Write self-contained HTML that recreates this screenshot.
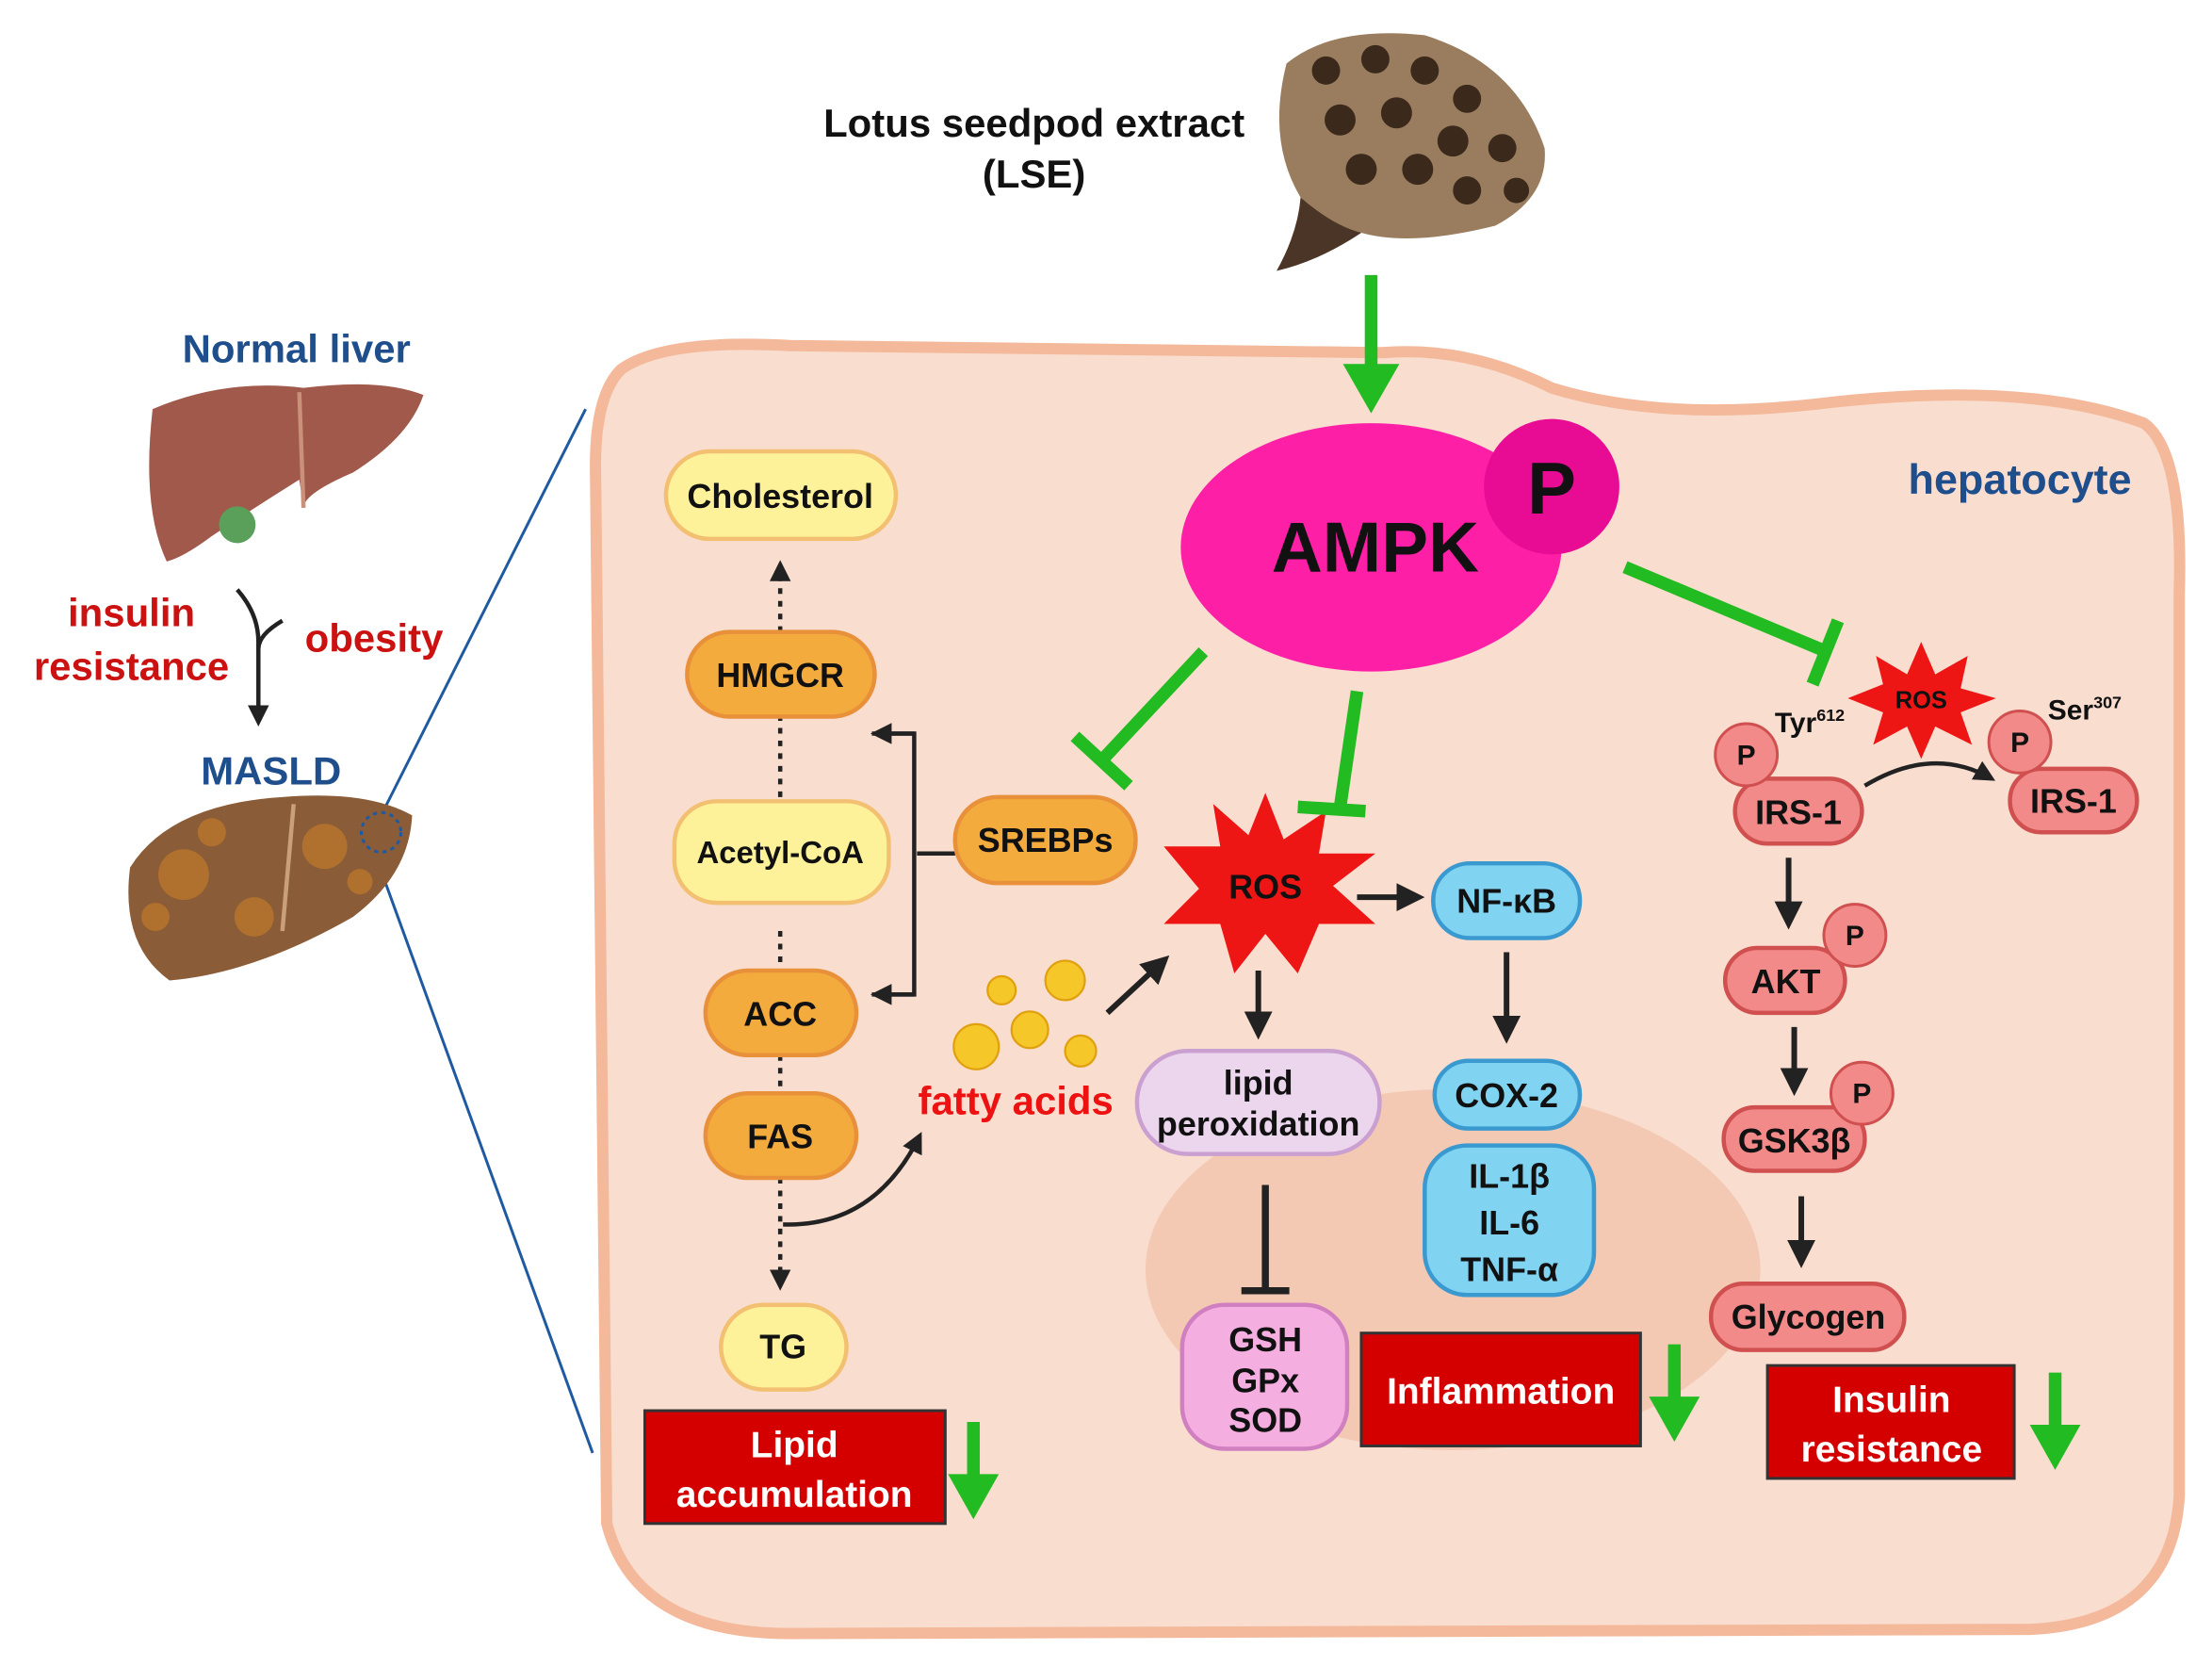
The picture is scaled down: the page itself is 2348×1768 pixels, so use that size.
<!DOCTYPE html>
<html><head><meta charset="utf-8"><style>
html,body{margin:0;padding:0;background:#fff;}
svg{display:block;}
text{font-family:"Liberation Sans",sans-serif;font-weight:bold;}
</style></head><body>
<svg width="2348" height="1768" viewBox="0 0 1568 1181" xmlns="http://www.w3.org/2000/svg">
<defs>
<marker id="ah" viewBox="0 0 10 10" refX="8" refY="5" markerWidth="5" markerHeight="5" orient="auto"><path d="M0,0 L10,5 L0,10 z" fill="#222"/></marker>
</defs>
<path d="M440,262 Q470,240 560,245 L980,250 Q1040,245 1100,275 Q1180,300 1300,285 Q1440,270 1520,300 Q1548,320 1545,420 L1545,1060 Q1540,1150 1440,1155 L560,1158 Q450,1158 430,1080 L422,330 Q422,280 440,262 Z" fill="#f9ddcf" stroke="#f3b99a" stroke-width="8"/>
<ellipse cx="1030" cy="900" rx="218" ry="128" fill="#f4c9b4"/>
<line x1="265" y1="588" x2="415" y2="290" stroke="#1f5aa0" stroke-width="2"/>
<line x1="263" y1="598" x2="420" y2="1030" stroke="#1f5aa0" stroke-width="2"/>
<text x="733" y="97" font-size="28" text-anchor="middle" fill="#111">Lotus seedpod extract</text>
<text x="733" y="133" font-size="28" text-anchor="middle" fill="#111">(LSE)</text>
<!-- seedpod -->
<path d="M912,45 Q945,18 1010,25 Q1075,45 1095,105 Q1098,140 1060,160 Q1000,175 965,165 Q935,185 905,192 Q920,165 922,140 Q898,100 912,45 Z" fill="#9a7d5e"/>
<path d="M965,165 Q935,185 905,192 Q920,165 922,140 Q945,160 965,165 Z" fill="#4a3526"/>
<g fill="#3b2a1c">
<circle cx="940" cy="50" r="10"/><circle cx="975" cy="42" r="10"/><circle cx="1010" cy="50" r="10"/><circle cx="1040" cy="70" r="10"/><circle cx="950" cy="85" r="11"/><circle cx="990" cy="80" r="11"/><circle cx="1030" cy="100" r="11"/><circle cx="1065" cy="105" r="10"/><circle cx="965" cy="120" r="11"/><circle cx="1005" cy="120" r="11"/><circle cx="1040" cy="135" r="10"/><circle cx="1075" cy="135" r="9"/></g>
<line x1="972" y1="195" x2="972" y2="262" stroke="#22bb22" stroke-width="9"/>
<path d="M952,258 L992,258 L972,293 Z" fill="#22bb22"/>
<ellipse cx="972" cy="388" rx="135" ry="88" fill="#fd1fa6"/>
<circle cx="1100" cy="345" r="48" fill="#e80c94"/>
<text x="1100" y="364" font-size="52" text-anchor="middle" fill="#111">P</text>
<text x="975" y="405" font-size="50" text-anchor="middle" fill="#111">AMPK</text>
<text x="1432" y="350" font-size="30" text-anchor="middle" fill="#1f4e8c">hepatocyte</text>
<text x="210" y="257" font-size="28" text-anchor="middle" fill="#1f4e8c">Normal liver</text>
<path d="M108,290 Q160,268 215,275 Q270,268 300,280 Q290,310 250,335 Q215,350 215,360 L212,340 Q180,360 150,380 Q130,395 118,398 Q100,360 108,290 Z" fill="#a0594a"/>
<line x1="212" y1="278" x2="215" y2="360" stroke="#c9907a" stroke-width="3"/>
<circle cx="168" cy="372" r="13" fill="#5aa05a"/>
<path d="M92,615 Q120,570 200,565 Q260,560 292,578 Q290,620 250,650 Q180,690 120,695 Q85,670 92,615 Z" fill="#8a5c38"/>
<line x1="208" y1="570" x2="200" y2="660" stroke="#c9a07a" stroke-width="3"/>
<g fill="#b0702e"><circle cx="130" cy="620" r="18"/><circle cx="180" cy="650" r="14"/><circle cx="230" cy="600" r="16"/><circle cx="150" cy="590" r="10"/><circle cx="110" cy="650" r="10"/><circle cx="255" cy="625" r="9"/></g>
<circle cx="270" cy="590" r="14" fill="none" stroke="#1f5aa0" stroke-width="2" stroke-dasharray="3,3"/>
<text x="93" y="444" font-size="28" text-anchor="middle" fill="#cc1111">insulin</text>
<text x="93" y="482" font-size="28" text-anchor="middle" fill="#cc1111">resistance</text>
<text x="265" y="462" font-size="28" text-anchor="middle" fill="#cc1111">obesity</text>
<path d="M168,418 Q183,435 183,455 L183,512" stroke="#222" stroke-width="3" fill="none" marker-end="url(#ah)"/>
<path d="M200,440 Q183,450 183,460" stroke="#222" stroke-width="3" fill="none"/>
<text x="192" y="556" font-size="28" text-anchor="middle" fill="#1f4e8c">MASLD</text>
<line x1="553" y1="565" x2="553" y2="400" stroke="#222" stroke-width="3" stroke-dasharray="4,5" marker-end="url(#ah)"/>
<line x1="553" y1="660" x2="553" y2="690" stroke="#222" stroke-width="3" stroke-dasharray="4,5"/>
<line x1="553" y1="748" x2="553" y2="776" stroke="#222" stroke-width="3" stroke-dasharray="4,5"/>
<line x1="553" y1="835" x2="553" y2="912" stroke="#222" stroke-width="3" stroke-dasharray="4,5" marker-end="url(#ah)"/>
<path d="M555,868 Q620,870 652,805" stroke="#222" stroke-width="3" fill="none" marker-end="url(#ah)"/>
<path d="M618,520 L648,520 L648,705 L618,705" stroke="#222" stroke-width="3" fill="none"/>
<line x1="648" y1="520" x2="620" y2="520" stroke="#222" stroke-width="3" marker-end="url(#ah)"/>
<line x1="648" y1="705" x2="620" y2="705" stroke="#222" stroke-width="3" marker-end="url(#ah)"/>
<line x1="650" y1="605" x2="677" y2="605" stroke="#222" stroke-width="3"/>
<g font-size="24" text-anchor="middle" fill="#111">
<rect x="472" y="320" width="163" height="62" rx="31" fill="#fdf29a" stroke="#f2c070" stroke-width="3"/><text x="553" y="360">Cholesterol</text>
<rect x="487" y="448" width="133" height="60" rx="30" fill="#f2ab3c" stroke="#e8913a" stroke-width="3"/><text x="553" y="487">HMGCR</text>
<rect x="478" y="568" width="152" height="72" rx="30" fill="#fdf29a" stroke="#f2c070" stroke-width="3"/><text x="553" y="612" font-size="22">Acetyl-CoA</text>
<rect x="500" y="688" width="107" height="60" rx="30" fill="#f2ab3c" stroke="#e8913a" stroke-width="3"/><text x="553" y="727">ACC</text>
<rect x="500" y="775" width="107" height="60" rx="30" fill="#f2ab3c" stroke="#e8913a" stroke-width="3"/><text x="553" y="814">FAS</text>
<rect x="511" y="925" width="89" height="60" rx="30" fill="#fdf29a" stroke="#f2c070" stroke-width="3"/><text x="555" y="963">TG</text>
<rect x="677" y="565" width="128" height="61" rx="30" fill="#f2ab3c" stroke="#e8913a" stroke-width="3"/><text x="741" y="604">SREBPs</text>
</g>
<rect x="457" y="1000" width="213" height="80" fill="#d40000" stroke="#333" stroke-width="2"/>
<text x="563" y="1033" font-size="26" text-anchor="middle" fill="#fff">Lipid</text>
<text x="563" y="1068" font-size="26" text-anchor="middle" fill="#fff">accumulation</text>
<g fill="#f5c728" stroke="#e0a010" stroke-width="1.5"><circle cx="710" cy="702" r="10"/><circle cx="755" cy="695" r="14"/><circle cx="730" cy="730" r="13"/><circle cx="692" cy="742" r="16"/><circle cx="766" cy="745" r="11"/></g>
<text x="720" y="790" font-size="28" text-anchor="middle" fill="#ee1111">fatty acids</text>
<line x1="785" y1="718" x2="826" y2="680" stroke="#222" stroke-width="4" marker-end="url(#ah)"/>
<polygon points="897,562 910,595 940,575 935,605 975,605 945,628 975,655 935,655 920,690 897,662 875,690 865,655 825,655 850,630 825,600 865,600 860,570 885,592" fill="#ee1515"/>
<text x="897" y="637" font-size="24" text-anchor="middle" fill="#111">ROS</text>
<line x1="962" y1="636" x2="1006" y2="636" stroke="#222" stroke-width="4" marker-end="url(#ah)"/>
<line x1="892" y1="688" x2="892" y2="733" stroke="#222" stroke-width="4" marker-end="url(#ah)"/>
<line x1="1068" y1="675" x2="1068" y2="736" stroke="#222" stroke-width="4" marker-end="url(#ah)"/>
<line x1="897" y1="840" x2="897" y2="915" stroke="#222" stroke-width="5"/>
<line x1="880" y1="915" x2="914" y2="915" stroke="#222" stroke-width="5"/>
<g font-size="24" text-anchor="middle" fill="#111">
<rect x="1016" y="612" width="104" height="53" rx="26" fill="#80d4f2" stroke="#3a9ad0" stroke-width="3"/><text x="1068" y="647">NF-κB</text>
<rect x="806" y="745" width="172" height="73" rx="36" fill="#ecd6ee" stroke="#c9a0d0" stroke-width="3"/><text x="892" y="776">lipid</text><text x="892" y="805">peroxidation</text>
<rect x="1017" y="752" width="103" height="48" rx="24" fill="#80d4f2" stroke="#3a9ad0" stroke-width="3"/><text x="1068" y="785">COX-2</text>
<rect x="1010" y="812" width="120" height="106" rx="30" fill="#80d4f2" stroke="#3a9ad0" stroke-width="3"/><text x="1070" y="842">IL-1β</text><text x="1070" y="875">IL-6</text><text x="1070" y="908">TNF-α</text>
<rect x="838" y="925" width="117" height="102" rx="30" fill="#f5aee0" stroke="#d080c0" stroke-width="3"/><text x="897" y="958">GSH</text><text x="897" y="987">GPx</text><text x="897" y="1015">SOD</text>
</g>
<rect x="965" y="945" width="198" height="80" fill="#d40000" stroke="#333" stroke-width="2"/>
<text x="1064" y="995" font-size="26" text-anchor="middle" fill="#fff">Inflammation</text>
<polygon points="1362,455 1372,478 1395,465 1390,488 1415,495 1390,505 1398,528 1372,515 1362,538 1352,515 1328,528 1335,505 1310,495 1335,485 1330,465 1352,478" fill="#ee1515"/>
<text x="1362" y="502" font-size="17" text-anchor="middle" fill="#111">ROS</text>
<text x="1283" y="519" font-size="20" text-anchor="middle" fill="#111">Tyr<tspan font-size="12" dy="-8">612</tspan></text>
<text x="1478" y="510" font-size="20" text-anchor="middle" fill="#111">Ser<tspan font-size="12" dy="-8">307</tspan></text>
<path d="M1322,557 Q1370,528 1412,552" stroke="#222" stroke-width="3" fill="none" marker-end="url(#ah)"/>
<line x1="1268" y1="608" x2="1268" y2="655" stroke="#222" stroke-width="4" marker-end="url(#ah)"/>
<line x1="1272" y1="728" x2="1272" y2="773" stroke="#222" stroke-width="4" marker-end="url(#ah)"/>
<line x1="1277" y1="848" x2="1277" y2="895" stroke="#222" stroke-width="4" marker-end="url(#ah)"/>
<g font-size="24" text-anchor="middle" fill="#111">
<rect x="1230" y="552" width="90" height="46" rx="23" fill="#f28a8a" stroke="#d05050" stroke-width="3"/><text x="1275" y="584">IRS-1</text>
<rect x="1425" y="545" width="90" height="45" rx="22" fill="#f28a8a" stroke="#d05050" stroke-width="3"/><text x="1470" y="576">IRS-1</text>
<rect x="1223" y="672" width="85" height="46" rx="23" fill="#f28a8a" stroke="#d05050" stroke-width="3"/><text x="1266" y="704">AKT</text>
<rect x="1222" y="785" width="100" height="45" rx="22" fill="#f28a8a" stroke="#d05050" stroke-width="3"/><text x="1272" y="817">GSK3β</text>
<rect x="1213" y="910" width="137" height="47" rx="23" fill="#f28a8a" stroke="#d05050" stroke-width="3"/><text x="1282" y="942">Glycogen</text>
</g>
<g font-size="20" text-anchor="middle" fill="#111">
<circle cx="1238" cy="535" r="22" fill="#f28a8a" stroke="#d05050" stroke-width="2"/><text x="1238" y="542">P</text>
<circle cx="1432" cy="526" r="22" fill="#f28a8a" stroke="#d05050" stroke-width="2"/><text x="1432" y="533">P</text>
<circle cx="1315" cy="663" r="22" fill="#f28a8a" stroke="#d05050" stroke-width="2"/><text x="1315" y="670">P</text>
<circle cx="1320" cy="775" r="22" fill="#f28a8a" stroke="#d05050" stroke-width="2"/><text x="1320" y="782">P</text>
</g>
<rect x="1253" y="968" width="175" height="80" fill="#d40000" stroke="#333" stroke-width="2"/>
<text x="1341" y="1001" font-size="26" text-anchor="middle" fill="#fff">Insulin</text>
<text x="1341" y="1036" font-size="26" text-anchor="middle" fill="#fff">resistance</text>
<g stroke="#22bb22" stroke-width="9" fill="none">
<line x1="853" y1="462" x2="782" y2="538"/><line x1="762" y1="522" x2="800" y2="557"/>
<line x1="962" y1="490" x2="950" y2="572"/><line x1="920" y1="572" x2="968" y2="575"/>
<line x1="1152" y1="402" x2="1295" y2="462"/><line x1="1285" y1="485" x2="1303" y2="440"/>
<line x1="690" y1="1008" x2="690" y2="1050"/><line x1="1187" y1="953" x2="1187" y2="995"/><line x1="1457" y1="973" x2="1457" y2="1015"/>
</g>
<g fill="#22bb22">
<path d="M672,1045 L708,1045 L690,1077 Z"/><path d="M1169,990 L1205,990 L1187,1022 Z"/><path d="M1439,1010 L1475,1010 L1457,1042 Z"/>
</g>
</svg>
</body></html>
